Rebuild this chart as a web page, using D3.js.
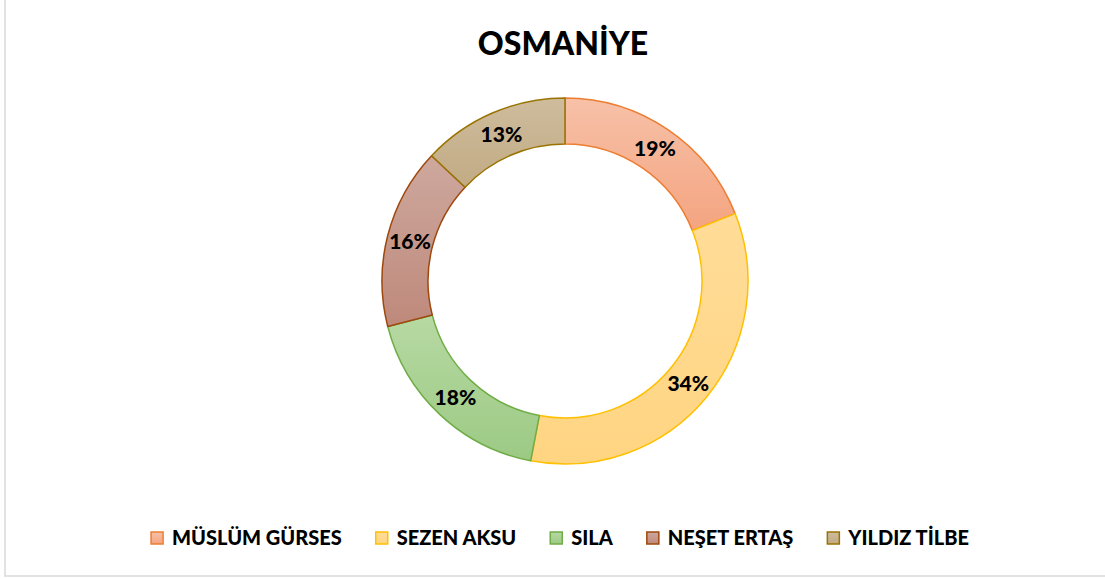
<!DOCTYPE html>
<html lang="tr">
<head>
    <meta charset="UTF-8">
    <title>OSMANİYE</title>
    <script src="https://d3js.org/d3.v7.min.js"></script>
    <style>
        body { margin: 0; background: #fff; }
        svg { display: block; font-family: Lato, "Open Sans", sans-serif; }
    </style>
</head>
<body>
<div id="chart"></div>
<script>
    // Chart data
    const singers = ['MÜSLÜM GÜRSES', 'SEZEN AKSU', 'SILA', 'NEŞET ERTAŞ', 'YILDIZ TİLBE'];
    const shares = [19, 34, 18, 16, 13];
    const chartTitle = 'OSMANİYE';

    // Colours: [gradient top, gradient bottom, border]
    const fillTop = ['#F7C1A8', '#FFDC98', '#B7D9A3', '#CEA89E', '#CEBC9D'];
    const fillBottom = ['#F4A480', '#FFD582', '#9CCA84', '#BE897B', '#C2AB84'];
    const strokes = ['#ED7D31', '#FFC000', '#70AD47', '#9E480E', '#997300'];

    const width = 1105;
    const height = 579;
    const cx = 565, cy = 281;
    const outerR = 183, innerR = 137;

    const svg = d3.select('#chart')
        .append('svg')
        .attr('width', width)
        .attr('height', height);

    // chart frame
    svg.append('rect')
        .attr('x', 5).attr('y', -5)
        .attr('width', width + 10).attr('height', 581)
        .attr('fill', '#fff')
        .attr('stroke', '#d9d9d9')
        .attr('stroke-width', 1.5);

    // gradients
    const defs = svg.append('defs');
    singers.forEach((s, i) => {
        const g = defs.append('linearGradient')
            .attr('id', 'grad' + i)
            .attr('x1', 0).attr('y1', 0)
            .attr('x2', 0).attr('y2', 1);
        g.append('stop').attr('offset', '0%').attr('stop-color', fillTop[i]);
        g.append('stop').attr('offset', '100%').attr('stop-color', fillBottom[i]);
    });

    // title
    svg.append('text')
        .attr('x', 563)
        .attr('y', 55)
        .attr('text-anchor', 'middle')
        .style('font-size', '32px')
        .style('font-weight', 900)
        .text(chartTitle);

    const data = singers.map((s, i) => ({ key: s, value: shares[i], i: i }));

    const pie = d3.pie()
        .value(d => d.value)
        .sort(null);

    const arc = d3.arc()
        .innerRadius(innerR)
        .outerRadius(outerR);

    const g = svg.append('g')
        .attr('transform', `translate(${cx},${cy})`);

    const arcs = pie(data);

    g.selectAll('path')
        .data(arcs)
        .enter()
        .append('path')
        .attr('d', arc)
        .attr('fill', d => `url(#grad${d.data.i})`)
        .attr('stroke', d => strokes[d.data.i])
        .attr('stroke-width', 1.5)
        .attr('stroke-linejoin', 'round');

    // percentage labels
    g.selectAll('text.lbl')
        .data(arcs)
        .enter()
        .append('text')
        .attr('class', 'lbl')
        .attr('transform', d => `translate(${arc.centroid(d)})`)
        .attr('text-anchor', 'middle')
        .attr('dy', '0.36em')
        .style('font-size', '21px')
        .style('font-weight', 900)
        .text(d => d.data.value + '%');

    // legend
    const legend = svg.append('g');
    const swatch = 12, swGap = 9, itemGap = 34;
    const legendY = 538;
    const items = legend.selectAll('g')
        .data(data)
        .enter()
        .append('g');

    items.append('rect')
        .attr('x', 0)
        .attr('y', legendY - swatch / 2)
        .attr('width', swatch)
        .attr('height', swatch)
        .attr('fill', d => `url(#grad${d.i})`)
        .attr('stroke', d => strokes[d.i])
        .attr('stroke-width', 1.5);

    items.append('text')
        .attr('x', swatch + swGap)
        .attr('y', legendY)
        .attr('dy', '0.36em')
        .style('font-size', '20px')
        .style('font-weight', 900)
        .text(d => d.key);

    // lay out the legend items in a row, centred
    let xPos = 0;
    const offsets = [];
    items.each(function () {
        offsets.push(xPos);
        const w = this.querySelector('text').getComputedTextLength();
        xPos += swatch + swGap + w + itemGap;
    });
    const total = xPos - itemGap;
    const start = 560 - total / 2;
    items.attr('transform', (d, i) => `translate(${start + offsets[i]},0)`);
</script>
</body>
</html>
